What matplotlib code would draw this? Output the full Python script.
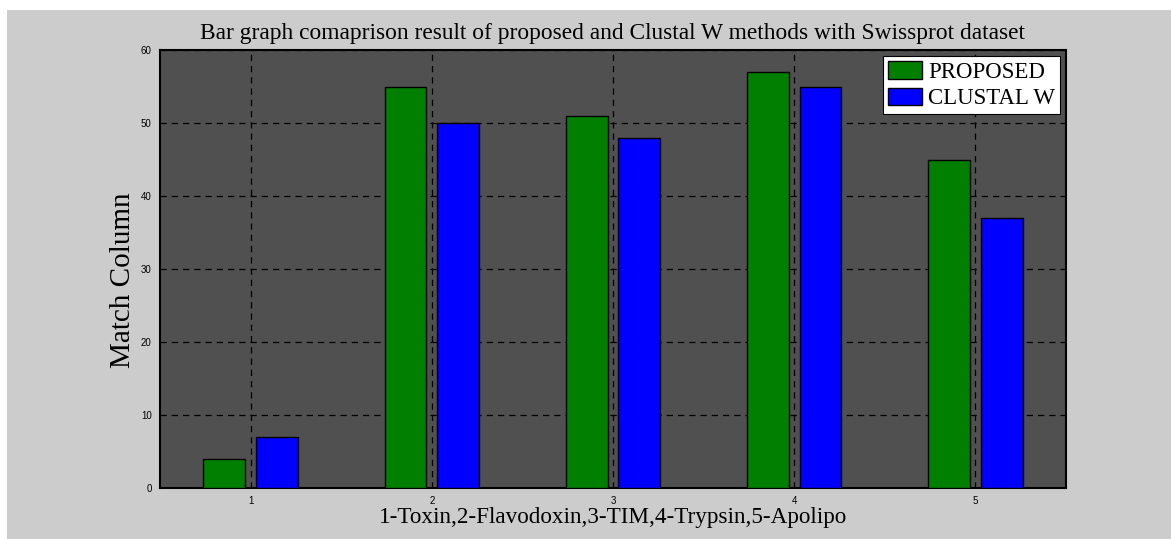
import matplotlib.pyplot as plt
from matplotlib.patches import Rectangle
import numpy as np

# data
groups = [1, 2, 3, 4, 5]
proposed = [4, 55, 51, 57, 45]
clustal = [7, 50, 48, 55, 37]

fig = plt.figure(figsize=(11.71, 5.39), dpi=100, facecolor='white')
# grey figure area, with a thin white strip at top and left
fig.patches.append(Rectangle((7 / 1171, 0), 1, 1 - 10 / 539, transform=fig.transFigure,
                             facecolor='#cccccc', edgecolor='none', zorder=-10))

ax = fig.add_axes([160 / 1171, 1 - 488 / 539, (1066 - 160) / 1171, (488 - 50) / 539])
ax.set_facecolor('#505050')

x = np.array(groups)
w = 0.23
ax.bar(x - 0.145, proposed, w, color='#007f00', edgecolor='black', linewidth=1,
       label='PROPOSED', zorder=3)
ax.bar(x + 0.145, clustal, w, color='#0000ff', edgecolor='black', linewidth=1,
       label='CLUSTAL W', zorder=3)

ax.set_xlim(0.5, 5.5)
ax.set_ylim(0, 60)
ax.set_xticks(groups)
ax.set_yticks(range(0, 61, 10))
ax.grid(True, color='black', linestyle=(0, (5, 4)), linewidth=0.9, zorder=1)
ax.set_axisbelow(True)
ax.tick_params(length=0, labelsize=7, pad=6, labelfontfamily='Liberation Sans')
for s in ax.spines.values():
    s.set_linewidth(1.5)
    s.set_color('black')

serif = 'Liberation Serif'
ax.set_title('Bar graph comaprison result of proposed and Clustal W methods with Swissprot dataset',
             fontsize=16.8, family=serif, pad=0, y=1.025)
ax.set_xlabel('1-Toxin,2-Flavodoxin,3-TIM,4-Trypsin,5-Apolipo', fontsize=16.7, family=serif)
ax.xaxis.set_label_coords(0.5, -0.043)
ax.set_ylabel('Match Column', fontsize=21, family=serif)
ax.yaxis.set_label_coords(-0.026, 0.475)

leg = ax.legend(loc='upper right', fancybox=False, framealpha=1, edgecolor='black',
                prop={'family': serif, 'size': 16.5}, borderaxespad=0.26,
                handlelength=1.5, handleheight=0.83, handletextpad=0.26, labelspacing=0.2,
                borderpad=0.22)
leg.get_frame().set_linewidth(0.8)

fig.savefig('out.png', dpi=100, facecolor=fig.get_facecolor())
